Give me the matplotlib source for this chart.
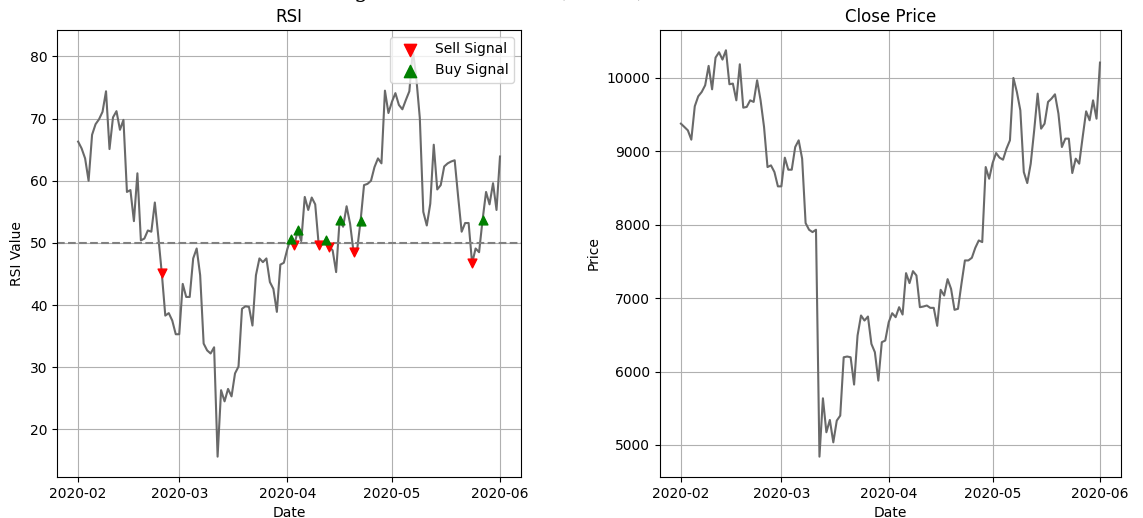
import matplotlib
matplotlib.use("Agg")
import matplotlib.pyplot as plt
import matplotlib.dates as mdates
import pandas as pd

# daily values, 2020-02-01 .. 2020-06-01
dates = pd.date_range("2020-02-01", "2020-06-01", freq="D")

close = [
    9377, 9332, 9286, 9159, 9614, 9750, 9809, 9900, 10164, 9845,
    10277, 10350, 10250, 10377, 9914, 9923, 9695, 10186, 9595, 9605,
    9695, 9673, 9968, 9695, 9332, 8786, 8809, 8718, 8523, 8523,
    8914, 8750, 8750, 9059, 9150, 8900, 8023, 7932, 7900, 7932,
    4841, 5636, 5173, 5341, 5036, 5332, 5400, 6195, 6205, 6195,
    5823, 6491, 6764, 6695, 6750, 6377, 6264, 5877, 6400, 6423,
    6673, 6795, 6741, 6877, 6777, 7341, 7205, 7368, 7309, 6877,
    6886, 6900, 6868, 6868, 6623, 7114, 7036, 7259, 7127, 6841,
    6855, 7195, 7514, 7514, 7550, 7686, 7786, 7764, 8786, 8627,
    8841, 8977, 8914, 8886, 9036, 9150, 10000, 9809, 9559, 8718,
    8568, 8832, 9286, 9786, 9309, 9377, 9673, 9718, 9777, 9514,
    9059, 9173, 9173, 8705, 8900, 8832, 9195, 9545, 9423, 9695,
    9445, 10209,
]

rsi = [
    66.3, 65.2, 63.6, 60.0, 67.4, 69.1, 69.9, 71.1, 74.4, 65.1,
    70.2, 71.2, 68.2, 69.8, 58.2, 58.5, 53.5, 61.2, 50.4, 50.7,
    52.0, 51.8, 56.5, 51.0, 45.1, 38.3, 38.7, 37.5, 35.3, 35.3,
    43.4, 41.3, 41.3, 47.5, 49.1, 44.8, 33.8, 32.7, 32.2, 33.2,
    15.6, 26.3, 24.5, 26.5, 25.3, 29.0, 30.1, 39.4, 39.8, 39.7,
    36.7, 44.8, 47.5, 46.9, 47.5, 43.7, 42.6, 38.9, 46.5, 46.8,
    49.0, 50.7, 49.6, 52.0, 50.3, 57.4, 55.3, 57.3, 56.2, 49.7,
    49.8, 50.4, 49.4, 48.8, 45.3, 53.7, 52.6, 55.9, 53.1, 48.5,
    48.8, 53.5, 59.3, 59.5, 60.0, 62.2, 63.6, 62.8, 74.5, 70.9,
    72.7, 74.1, 72.2, 71.5, 73.0, 74.4, 81.0, 76.5, 70.1, 55.0,
    52.8, 56.3, 65.8, 58.6, 59.3, 62.3, 62.8, 63.1, 63.3, 57.4,
    51.8, 53.2, 53.2, 46.7, 49.1, 48.5, 53.7, 58.2, 56.2, 59.6,
    55.3, 63.9,
]

level = 50

df = pd.DataFrame({"close": close, "rsi": rsi}, index=dates)
prev = df["rsi"].shift(1)
sell = df[(df["rsi"] < level) & (prev >= level)]
buy = df[(df["rsi"] > level) & (prev <= level)]

fig = plt.figure(figsize=(11.43, 5.18), dpi=100)
ax1 = fig.add_axes([0.0499, 0.0792, 0.406, 0.863])
ax2 = fig.add_axes([0.5774, 0.0792, 0.4033, 0.863])

fig.text(0.169, 1.006, "Bitcoin Trading Indicator Chart (14, 70)",
         family="DejaVu Serif", fontsize=16, va="baseline", ha="left")

ax1.plot(df.index, df["rsi"], color="dimgray", lw=1.5)
ax1.axhline(level, color="gray", ls="--", lw=1.5)
ax1.scatter(sell.index, sell["rsi"], marker="v", color="red", s=40, label="Sell Signal", zorder=3)
ax1.scatter(buy.index, buy["rsi"], marker="^", color="green", s=40, label="Buy Signal", zorder=3)
ax1.set_title("RSI")
ax1.set_xlabel("Date")
ax1.set_ylabel("RSI Value")
ax1.grid()
ax1.legend(loc="upper right", markerscale=1.4)

ax2.plot(df.index, df["close"], color="dimgray", lw=1.5)
ax2.set_title("Close Price")
ax2.set_xlabel("Date")
ax2.set_ylabel("Price")
ax2.grid()

for ax in (ax1, ax2):
    ax.xaxis.set_major_locator(mdates.MonthLocator())
    ax.xaxis.set_major_formatter(mdates.DateFormatter("%Y-%m"))

fig.savefig("out.png", dpi=100)
